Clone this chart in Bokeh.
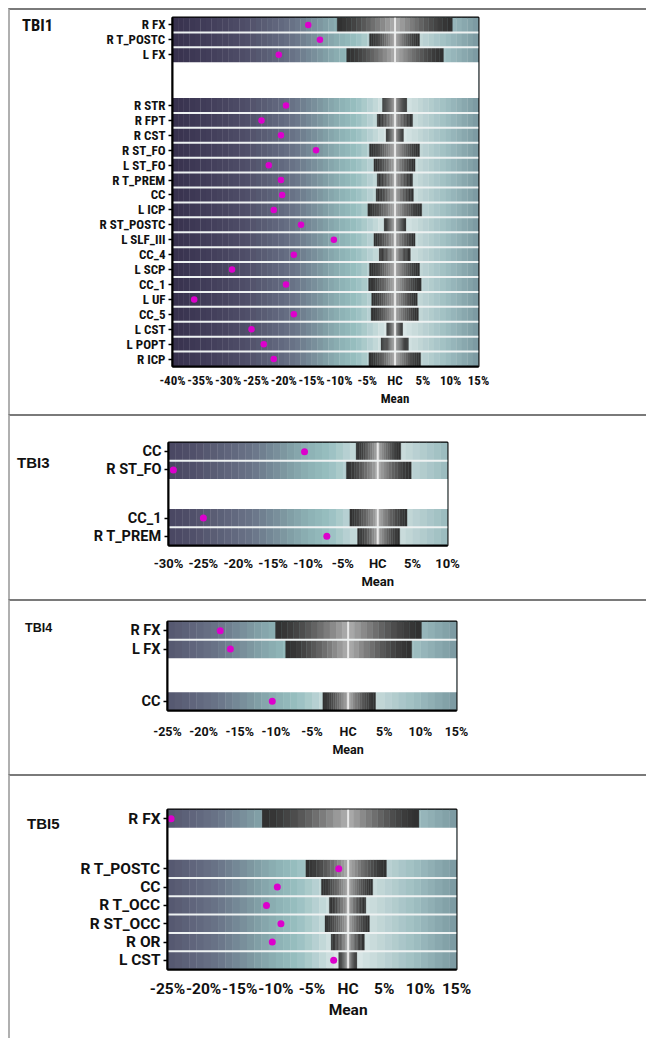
import os
import subprocess
import numpy as np
from bokeh.plotting import figure
from bokeh.models import Range1d, FixedTicker, Div
from bokeh.layouts import column, row
from bokeh.embed import file_html
from bokeh.resources import INLINE

# ---------------- data ----------------
# TBI1
tbi1_tracts_a = ["R FX", "R T_POSTC", "L FX"]
tbi1_tracts_b = ["R STR", "R FPT", "R CST", "R ST_FO", "L ST_FO", "R T_PREM", "CC", "L ICP",
                 "R ST_POSTC", "L SLF_III", "CC_4", "L SCP", "CC_1", "L UF", "CC_5", "L CST",
                 "L POPT", "R ICP"]
tbi1_patient_a = [-15.6, -13.5, -20.9]
tbi1_patient_b = [-19.6, -24.0, -20.5, -14.2, -22.7, -20.5, -20.3, -21.8, -16.9, -11.0, -18.2,
                  -29.3, -19.6, -36.1, -18.2, -25.8, -23.6, -21.8]
tbi1_hc_lo_a = [-10.4, -4.6, -8.7]
tbi1_hc_hi_a = [10.3, 4.4, 8.7]
tbi1_hc_lo_b = [-2.25, -3.2, -1.6, -4.6, -3.8, -3.2, -3.4, -4.9, -1.95, -3.8, -2.85, -4.6, -4.75,
                -4.2, -4.3, -1.5, -2.5, -4.7]
tbi1_hc_hi_b = [2.1, 3.15, 1.5, 4.4, 3.6, 3.15, 3.3, 4.8, 1.95, 3.6, 2.75, 4.4, 4.7, 4.0, 4.2,
                1.35, 2.4, 4.6]
tbi1_ticks = [-40, -35, -30, -25, -20, -15, -10, -5, 0, 5, 10, 15]

# TBI3
tbi3_tracts_a = ["CC", "R ST_FO"]
tbi3_tracts_b = ["CC_1", "R T_PREM"]
tbi3_patient_a = [-10.5, -29.3]
tbi3_patient_b = [-25.0, -7.3]
tbi3_hc_lo_a = [-3.1, -4.5]
tbi3_hc_hi_a = [3.3, 4.8]
tbi3_hc_lo_b = [-4.0, -2.9]
tbi3_hc_hi_b = [4.2, 3.15]
tbi3_ticks = [-30, -25, -20, -15, -10, -5, 0, 5, 10]

# TBI4
tbi4_tracts_a = ["R FX", "L FX"]
tbi4_tracts_b = ["CC"]
tbi4_patient_a = [-17.7, -16.3]
tbi4_patient_b = [-10.5]
tbi4_hc_lo_a = [-10.05, -8.65]
tbi4_hc_hi_a = [10.15, 8.8]
tbi4_hc_lo_b = [-3.5]
tbi4_hc_hi_b = [3.8]
tbi4_ticks = [-25, -20, -15, -10, -5, 0, 5, 10, 15]

# TBI5
tbi5_tracts_a = ["R FX"]
tbi5_tracts_b = ["R T_POSTC", "CC", "R T_OCC", "R ST_OCC", "R OR", "L CST"]
tbi5_patient_a = [-24.5]
tbi5_patient_b = [-1.3, -9.8, -11.3, -9.3, -10.5, -2.0]
tbi5_hc_lo_a = [-11.9]
tbi5_hc_hi_a = [9.8]
tbi5_hc_lo_b = [-5.85, -3.7, -2.6, -3.2, -2.35, -1.3]
tbi5_hc_hi_b = [5.3, 3.4, 2.45, 2.95, 2.25, 1.2]
tbi5_ticks = [-25, -20, -15, -10, -5, 0, 5, 10, 15]


# ---------------- font detection (narrow font for TBI1) ----------------
def available_families():
    fams = set()
    try:
        out = subprocess.run(["fc-list", ":", "family"], capture_output=True, text=True,
                             timeout=10).stdout
        for line in out.splitlines():
            for f in line.split(","):
                fams.add(f.strip().lower())
    except Exception:
        pass
    files = ""
    for d in ["/usr/share/fonts", "/usr/local/share/fonts", os.path.expanduser("~/.fonts")]:
        for root, _, fs in os.walk(d):
            files += " ".join(fs).lower() + " "
    return fams, files


fams, files = available_families()
NARROW_CHOICES = [("Roboto Condensed", "robotocondensed", 13.0, 16.5),
                  ("Liberation Sans Narrow", "liberationsansnarrow", 12.5, 17.0),
                  ("DejaVu Sans Condensed", "dejavusanscondensed", 11.5, 16.0),
                  ("Roboto", "roboto", 11.0, 15.0)]
NARROW, NARROW_FS, NARROW_TFS = "Roboto", 11.0, 15.0
for fam, key, fs, tfs in NARROW_CHOICES:
    if fam.lower() in fams or key in files.replace("-", "").replace("_", ""):
        NARROW, NARROW_FS, NARROW_TFS = fam, fs, tfs
        break

# ---------------- styling helpers ----------------
BG_STOPS = [(-40, "#37314d"), (-33, "#433f5b"), (-27, "#4f4e68"), (-18, "#6a7488"),
            (-13, "#7f9ba3"), (-10, "#8cb1b4"), (-7, "#98bfc0"), (-4, "#bcd4d5"),
            (-1.5, "#dae6e6"), (1.5, "#d8e5e5"), (5, "#bdd3d4"), (9, "#9fbfc2"),
            (15, "#7a98a0")]


def h2r(h):
    return np.array([int(h[i:i + 2], 16) for i in (1, 3, 5)], dtype=float)


def r2h(c):
    c = np.clip(np.round(c), 0, 255).astype(int)
    return "#%02x%02x%02x" % tuple(c)


def bg_color(x):
    xs = [s[0] for s in BG_STOPS]
    cs = np.array([h2r(s[1]) for s in BG_STOPS])
    return r2h(np.array([np.interp(x, xs, cs[:, k]) for k in range(3)]))


BAR_EDGE = h2r("#303030")
BAR_MID = h2r("#b0b0b0")


def bar_color(t):
    t = t ** 1.5
    return r2h(BAR_EDGE + (BAR_MID - BAR_EDGE) * t)


TOP_BORDER = "2px solid #7a7a7a"
LEFT_BORDER = "2px solid #b0b0b0"
DIV_W = 60
TOTAL_W = 638


def make_panel(title, tr_a, tr_b, pt_a, pt_b, lo_a, hi_a, lo_b, hi_b, ticks, cfg):
    na, nb = len(tr_a), len(tr_b)
    gap = cfg["gap"]
    pos = [float(i) for i in range(na)] + [round(na + gap + i, 3) for i in range(nb)]
    ys = [-p for p in pos]
    labels = list(tr_a) + list(tr_b)
    pts = list(pt_a) + list(pt_b)
    los = list(lo_a) + list(lo_b)
    his = list(hi_a) + list(hi_b)
    xmin, xmax = ticks[0], ticks[-1]
    ybot = -(na + gap + nb) + 0.5

    p = figure(width=TOTAL_W - DIV_W, height=cfg["h"], x_range=Range1d(xmin, xmax),
               y_range=Range1d(ybot, 0.5), output_backend="svg", toolbar_location=None,
               min_border_left=cfg["ml"], min_border_right=cfg["mr"],
               min_border_top=cfg["mt"], min_border_bottom=cfg["mb"], margin=0,
               styles={"border-top": TOP_BORDER, "box-sizing": "border-box"})

    # background gradient
    xs = np.arange(xmin, xmax, 1.0)
    p.quad(left=xs, right=xs + 1.05, bottom=ybot, top=0.5,
           fill_color=[bg_color(x + 0.5) for x in xs], line_color=None)

    # HC range bars with grey gradient
    N = 12
    L, R, B, T, C = [], [], [], [], []
    for y, lo, hi in zip(ys, los, his):
        el = np.linspace(lo, 0, N + 1)
        er = np.linspace(0, hi, N + 1)
        for j in range(N):
            L.append(el[j]); R.append(el[j + 1]); B.append(y - 0.5); T.append(y + 0.5)
            C.append(bar_color((j + 0.5) / N))
            L.append(er[j]); R.append(er[j + 1]); B.append(y - 0.5); T.append(y + 0.5)
            C.append(bar_color(1 - (j + 0.5) / N))
    p.quad(left=L, right=R, bottom=B, top=T, fill_color=C, line_color=C, line_width=0.3)
    p.segment(x0=[0] * len(ys), x1=[0] * len(ys), y0=[y - 0.5 for y in ys],
              y1=[y + 0.5 for y in ys], line_color="#e8e8e8", line_width=2)

    # separators between rows
    seps = [-(i + 0.5) for i in range(na - 1)] + [-(na + gap + i + 0.5) for i in range(nb - 1)]
    if seps:
        p.segment(x0=[xmin] * len(seps), x1=[xmax] * len(seps), y0=seps, y1=seps,
                  line_color="#eef2f2", line_width=2)
    # white gap between groups
    p.quad(left=[xmin], right=[xmax], top=[-na + 0.5], bottom=[-(na + gap) + 0.5],
           fill_color="white", line_color=None)

    # patient dots
    p.scatter(x=pts, y=ys, size=cfg["dot"], fill_color="#dc00cc", line_color=None)

    # axes
    p.grid.visible = False
    p.outline_line_color = "black"
    p.outline_line_width = 2
    xa, ya = p.xaxis[0], p.yaxis[0]
    xa.ticker = FixedTicker(ticks=ticks)
    xa.major_label_overrides = {t: ("HC\nMean" if t == 0 else f"{t}%") for t in ticks}
    xa.major_tick_out = 0
    xa.major_tick_in = 0
    xa.minor_tick_line_color = None
    xa.axis_line_color = "black"
    xa.axis_line_width = 2
    xa.major_label_standoff = cfg["xstand"]
    xa.major_label_text_font = cfg["font"]
    xa.major_label_text_font_style = "bold"
    xa.major_label_text_font_size = cfg["xfs"]
    xa.major_label_text_color = "#111111"
    ya.ticker = FixedTicker(ticks=ys)
    ya.major_label_overrides = {y: lab for y, lab in zip(ys, labels)}
    ya.major_tick_out = 4
    ya.major_tick_in = 0
    ya.major_tick_line_width = 1.5
    ya.minor_tick_line_color = None
    ya.axis_line_color = "black"
    ya.axis_line_width = 2
    ya.major_label_standoff = 3
    ya.major_label_text_font = cfg["font"]
    ya.major_label_text_font_style = "bold"
    ya.major_label_text_font_size = cfg["yfs"]
    ya.major_label_text_color = "#111111"

    html = (f'<div style="padding:{cfg["tpy"]}px 0 0 {cfg["tpx"]}px;font-family:\'{cfg["tfont"]}\';'
            f'font-weight:bold;font-size:{cfg["tfs"]};line-height:1;color:#111111;">{title}</div>')
    d = Div(text=html, width=DIV_W, height=cfg["h"], margin=0,
            styles={"border-top": TOP_BORDER, "border-left": LEFT_BORDER,
                    "box-sizing": "border-box", "overflow": "hidden"})
    return row(d, p, spacing=0, margin=0)


# frame targets (page px): TBI1 x 172-478; TBI3 168-447; TBI4/5 167-456
OFF = 8 + DIV_W
p1 = make_panel("TBI1", tbi1_tracts_a, tbi1_tracts_b, tbi1_patient_a, tbi1_patient_b,
                tbi1_hc_lo_a, tbi1_hc_hi_a, tbi1_hc_lo_b, tbi1_hc_hi_b, tbi1_ticks,
                dict(h=406, ml=172 - OFF, mr=646 - 478, mt=7, mb=50, gap=2.4, font=NARROW,
                     xfs=f"{NARROW_FS}px", yfs=f"{NARROW_FS}px", xstand=6, dot=6.5,
                     tpx=12, tpy=7.5, tfont=NARROW, tfs=f"{NARROW_TFS}px"))
p2 = make_panel("TBI3", tbi3_tracts_a, tbi3_tracts_b, tbi3_patient_a, tbi3_patient_b,
                tbi3_hc_lo_a, tbi3_hc_hi_a, tbi3_hc_lo_b, tbi3_hc_hi_b, tbi3_ticks,
                dict(h=185, ml=168 - OFF, mr=646 - 447, mt=26, mb=56, gap=1.64, font="Roboto",
                     xfs="13px", yfs="14.5px", xstand=10, dot=7, tpx=7, tpy=38.5,
                     tfont="Liberation Sans", tfs="15px"))
p3 = make_panel("TBI4", tbi4_tracts_a, tbi4_tracts_b, tbi4_patient_a, tbi4_patient_b,
                tbi4_hc_lo_a, tbi4_hc_hi_a, tbi4_hc_lo_b, tbi4_hc_hi_b, tbi4_ticks,
                dict(h=175, ml=167 - OFF, mr=646 - 456, mt=20, mb=66, gap=1.85, font="Roboto",
                     xfs="12.5px", yfs="14.5px", xstand=13, dot=7, tpx=15, tpy=20.5,
                     tfont="Liberation Sans", tfs="12.5px"))
p4 = make_panel("TBI5", tbi5_tracts_a, tbi5_tracts_b, tbi5_patient_a, tbi5_patient_b,
                tbi5_hc_lo_a, tbi5_hc_hi_a, tbi5_hc_lo_b, tbi5_hc_hi_b, tbi5_ticks,
                dict(h=264, ml=167 - OFF, mr=646 - 456, mt=33, mb=71, gap=1.74, font="Roboto",
                     xfs="15.5px", yfs="15.5px", xstand=10, dot=7, tpx=17, tpy=39.5,
                     tfont="Liberation Sans", tfs="15px"))

layout = column(p1, p2, p3, p4, spacing=0, margin=(8, 0, 0, 8))
open("out.html", "w").write(file_html(layout, INLINE))
